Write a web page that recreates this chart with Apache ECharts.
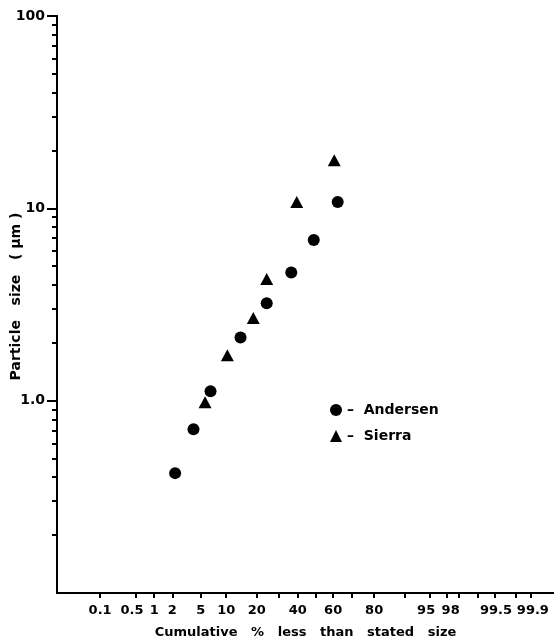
<!DOCTYPE html>
<html>
<head>
<meta charset="utf-8">
<script src="https://cdn.jsdelivr.net/npm/echarts@6/dist/echarts.min.js"></script>
<style>
html,body{margin:0;padding:0;background:#fff;}
#chart{width:554px;height:644px;}
</style>
</head>
<body>
<div id="chart"></div>
<script>
// ---- data (cumulative % less than stated size, particle size in µm) ----
var andersenPct  = [2.2, 4.0, 6.6, 14.1, 24.2, 36.4, 49.0, 62.5];
var andersenSize = [0.42, 0.71, 1.12, 2.13, 3.21, 4.64, 6.85, 10.8];
var sierraPct    = [5.65, 10.3, 18.6, 24.2, 39.4, 60.6];
var sierraSize   = [0.98, 1.72, 2.69, 4.29, 10.8, 17.8];

var xLabelPct = [0.1, 0.5, 1, 2, 5, 10, 20, 40, 60, 80, 95, 98, 99.5, 99.9];
var xTickPct  = [0.1, 0.5, 1, 2, 5, 10, 20, 30, 40, 50, 60, 70, 80, 90, 95, 97, 98, 99, 99.5, 99.8, 99.9];
var yLabelVals = [1, 10, 100];
var yMinorVals = [0.2,0.3,0.4,0.5,0.6,0.7,0.8,0.9,2,3,4,5,6,7,8,9,20,30,40,50,60,70,80,90];

// probability-scale transform (inverse normal CDF, Acklam)
function probit(pct) {
  var p = pct / 100;
  var a=[-3.969683028665376e+01,2.209460984245205e+02,-2.759285104469687e+02,1.383577518672690e+02,-3.066479806614716e+01,2.506628277459239e+00];
  var b=[-5.447609879822406e+01,1.615858368580409e+02,-1.556989798598866e+02,6.680131188771972e+01,-1.328068155288572e+01];
  var c=[-7.784894002430293e-03,-3.223964580411365e-01,-2.400758277161838e+00,-2.549732539343734e+00,4.374664141464968e+00,2.938163982698783e+00];
  var d=[7.784695709041462e-03,3.224671290700398e-01,2.445134137142996e+00,3.754408661907416e+00];
  var pl=0.02425, q, r;
  if (p < pl) { q=Math.sqrt(-2*Math.log(p)); return (((((c[0]*q+c[1])*q+c[2])*q+c[3])*q+c[4])*q+c[5])/((((d[0]*q+d[1])*q+d[2])*q+d[3])*q+1); }
  if (p > 1-pl) { q=Math.sqrt(-2*Math.log(1-p)); return -(((((c[0]*q+c[1])*q+c[2])*q+c[3])*q+c[4])*q+c[5])/((((d[0]*q+d[1])*q+d[2])*q+d[3])*q+1); }
  q=p-0.5; r=q*q;
  return (((((a[0]*r+a[1])*r+a[2])*r+a[3])*r+a[4])*r+a[5])*q/(((((b[0]*r+b[1])*r+b[2])*r+b[3])*r+b[4])*r+1);
}
function pairs(px, vy) { return px.map(function(p,i){ return [probit(p), vy[i]]; }); }

var xLabelZ = xLabelPct.map(probit);
var xTickZ = xTickPct.map(probit);

var FONT = 'DejaVu Sans';
// small hand-lettering offsets of crowded labels (px, negative = left)
var labelShift = {'0.5': -4, '1': 1, '95': -4, '98': -8, '99.5': 1, '99.9': 2};
var rich = {};
xLabelPct.forEach(function(p, i){
  var s = labelShift[String(p)] || 0;
  rich['l' + i] = {
    fontFamily: FONT, fontWeight: 'bold', fontSize: 13, color: '#000',
    padding: s < 0 ? [0, -2*s, 0, 0] : [0, 0, 0, 2*s]
  };
});

var gridBox = {left: 57, right: 0, top: 16, bottom: 51, containLabel: false, outerBoundsMode: 'none'};
var chart = echarts.init(document.getElementById('chart'), null, {renderer:'canvas'});
chart.setOption({
  animation: false,
  backgroundColor: '#fff',
  grid: [gridBox, Object.assign({}, gridBox)],
  legend: {
    orient: 'vertical', left: 325, top: 398, itemWidth: 12, itemHeight: 12, itemGap: 12,
    textStyle: {fontFamily: FONT, fontWeight: 'bold', fontSize: 14, color: '#000'},
    formatter: function(n){ return '\u2013  ' + n; },
    data: ['Andersen', 'Sierra']
  },
  xAxis: [{
    type: 'value', min: -3.709, max: 3.422, gridIndex: 0,
    name: 'Cumulative   %   less   than   stated   size',
    nameLocation: 'middle', nameGap: 33,
    nameTextStyle: {fontFamily: FONT, fontWeight: 'bold', fontSize: 13, color: '#000'},
    splitLine: {show: false},
    axisLine: {onZero: false, lineStyle: {color: '#000', width: 2}},
    axisTick: {show: true, inside: false, length: 5, lineStyle: {color: '#000', width: 2}, customValues: xTickZ},
    axisLabel: {
      customValues: xLabelZ, margin: 11, hideOverlap: false,
      fontFamily: FONT, fontWeight: 'bold', fontSize: 13, color: '#000',
      rich: rich,
      formatter: function(v){
        for (var i=0;i<xLabelZ.length;i++) if (Math.abs(xLabelZ[i]-v) < 1e-6) return '{l' + i + '|' + xLabelPct[i] + '}';
        return '';
      }
    }
  }, {
    type: 'value', min: -3.709, max: 3.422, gridIndex: 1, show: false
  }],
  yAxis: [{
    type: 'log', min: 0.1, max: 100, logBase: 10, gridIndex: 0,
    name: 'Particle   size   ( \u03bcm )',
    nameLocation: 'middle', nameGap: 34, nameMoveOverlap: false,
    nameTextStyle: {fontFamily: FONT, fontWeight: 'bold', fontSize: 14, color: '#000', padding: [0,0,0,16]},
    splitLine: {show: false},
    axisLine: {show: true, onZero: false, lineStyle: {color: '#000', width: 2}},
    axisTick: {show: true, length: 5, lineStyle: {color: '#000', width: 2}, customValues: yMinorVals},
    axisLabel: {
      customValues: yLabelVals, margin: 12,
      fontFamily: FONT, fontWeight: 'bold', fontSize: 14, color: '#000',
      formatter: function(v){ return v === 1 ? '1.0' : String(v); }
    }
  }, {
    type: 'log', min: 0.1, max: 100, logBase: 10, gridIndex: 1, position: 'left',
    splitLine: {show: false},
    axisLine: {show: true, onZero: false, lineStyle: {color: '#000', width: 2}},
    axisLabel: {show: false},
    axisTick: {show: true, length: 10, lineStyle: {color: '#000', width: 2}, customValues: yLabelVals}
  }],
  series: [{
    name: 'Andersen', type: 'scatter', symbol: 'circle', symbolSize: 12,
    itemStyle: {color: '#000', opacity: 1},
    data: pairs(andersenPct, andersenSize)
  }, {
    name: 'Sierra', type: 'scatter', symbol: 'triangle', symbolSize: [13, 12],
    itemStyle: {color: '#000', opacity: 1},
    data: pairs(sierraPct, sierraSize)
  }, {
    name: 'majorTicks', type: 'scatter', xAxisIndex: 1, yAxisIndex: 1, silent: true,
    data: []
  }]
});
</script>
</body>
</html>
